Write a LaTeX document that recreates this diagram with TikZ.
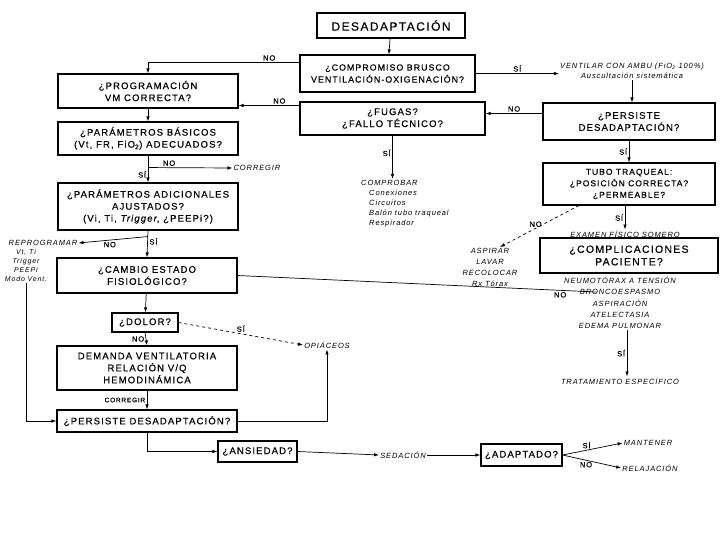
\documentclass[tikz,border=0pt]{standalone}
\usepackage{fontspec}
\setmainfont{Liberation Sans}
\newfontfamily\boxfont[LetterSpace=12,FakeBold=0.4]{Liberation Sans}
\newfontfamily\notefont[LetterSpace=12]{Liberation Sans}
\usetikzlibrary{positioning,arrows.meta,calc}

\tikzset{
  flowbox/.style={draw, line width=1.1pt, align=center, inner sep=0pt,
    font=\boxfont\fontsize{9.5}{12}\selectfont},
  note/.style={align=center, inner sep=1pt,
    font=\notefont\itshape\fontsize{7.5}{10}\selectfont},
  lbl/.style={inner sep=1.5pt, font=\boxfont\fontsize{7.5}{9}\selectfont},
  link/.style={line width=0.7pt, -{Latex[length=5pt,width=3.5pt]}},
  bareline/.style={line width=0.7pt},
}

\begin{document}
\begin{tikzpicture}[x=1pt,y=-1pt]
      \useasboundingbox (0,0) rectangle (720,540);
      \fill[white] (0,0) rectangle (720,540);

      % boxes
      \node[flowbox, font=\boxfont\fontsize{12}{14}\selectfont, minimum width=148, minimum height=25] (desad) at (391,25.5) {DESADAPTACIÓN};
      \node[flowbox, font=\boxfont\fontsize{8.8}{12}\selectfont, minimum width=175, minimum height=37] (compr) at (387.5,73.5) {¿COMPROMISO BRUSCO\\VENTILACIÓN-OXIGENACIÓN?};
      \node[flowbox, minimum width=180, minimum height=34] (prog) at (148,91) {¿PROGRAMACIÓN\\VM CORRECTA?};
      \node[flowbox, minimum width=185, minimum height=33] (fugas) at (392.5,118.5) {¿FUGAS?\\¿FALLO TÉCNICO?};
      \node[flowbox, minimum width=172, minimum height=37] (persR) at (629,121.5) {¿PERSISTE\\DESADAPTACIÓN?};
      \node[flowbox, minimum width=180, minimum height=33] (basic) at (148,138.5) {¿PARÁMETROS BÁSICOS\\(Vt, FR, FiO\textsubscript{2}) ADECUADOS?};
      \node[flowbox, minimum width=180, minimum height=47] (adic) at (148,206.5) {¿PARÁMETROS ADICIONALES\\AJUSTADOS?\\(Vi, Ti, \textit{Trigger}, ¿PEEPi?)};
      \node[flowbox, font=\boxfont\fontsize{8.5}{11.5}\selectfont, minimum width=172, minimum height=42] (tubo) at (629,184) {TUBO TRAQUEAL:\\¿POSICIÓN CORRECTA?\\¿PERMEABLE?};
      \node[flowbox, font=\boxfont\fontsize{10.5}{12.5}\selectfont, minimum width=178, minimum height=35] (compl) at (629,255.5) {¿COMPLICACIONES\\PACIENTE?};
      \node[flowbox, minimum width=180, minimum height=35] (cambio) at (147,275.5) {¿CAMBIO ESTADO\\FISIOLÓGICO?};
      \node[flowbox, minimum width=66, minimum height=19] (dolor) at (145,322.5) {¿DOLOR?};
      \node[flowbox, minimum width=180, minimum height=44] (demanda) at (147,368) {DEMANDA VENTILATORIA\\RELACIÓN V/Q\\HEMODINÁMICA};
      \node[flowbox, minimum width=180, minimum height=22] (pers2) at (147,421) {¿PERSISTE DESADAPTACIÓN?};
      \node[flowbox, minimum width=79, minimum height=21] (ansiedad) at (257.5,451.5) {¿ANSIEDAD?};
      \node[flowbox, minimum width=81, minimum height=22] (adapt) at (521.5,455) {¿ADAPTADO?};

      % notes
      \node[note] (ventilar) at (632,71) {VENTILAR CON AMBU (FiO\textsubscript{2} 100\%)\\Auscultación sistemática};
      \node[note, align=left, anchor=north west] (comprobar) at (360,179) {COMPROBAR\\\hspace*{8pt}Conexiones\\\hspace*{8pt}Circuitos\\\hspace*{8pt}Balón tubo traqueal\\\hspace*{8pt}Respirador};
      \node[note] (corregir) at (257,168) {CORREGIR};
      \node[note] (reprog) at (43,243) {REPROGRAMAR};
      \node[note, font=\notefont\itshape\fontsize{7}{9}\selectfont, anchor=north] (reprogl) at (26,248) {Vt, Ti\\Trigger\\PEEPi\\Modo Vent.};
      \node[note] (opiaceos) at (327,345) {OPIÁCEOS};
      \node[note, font=\notefont\itshape\fontsize{7.5}{11}\selectfont, anchor=north] (aspirar) at (490,247) {ASPIRAR\\LAVAR\\RECOLOCAR\\Rx Tórax};
      \node[note] (examen) at (625,234) {EXAMEN FÍSICO SOMERO};
      \node[note, font=\notefont\itshape\fontsize{7.5}{11.2}\selectfont, anchor=north] (neumo) at (620,276) {NEUMOTÓRAX A TENSIÓN\\BRONCOESPASMO\\ASPIRACIÓN\\ATELECTASIA\\EDEMA PULMONAR};
      \node[note] (tratam) at (620,381) {TRATAMIENTO ESPECÍFICO};
      \node[note] (sedacion) at (403,455) {SEDACIÓN};
      \node[note] (mantener) at (648,443) {MANTENER};
      \node[note] (relaj) at (650,468) {RELAJACIÓN};
      \coordinate (noend) at (596,292);

      % connectors
      \draw[link] (desad) -- (compr);
      \draw[link] (compr.east) -- node[lbl, above] {SÍ} (ventilar.west |- compr.east);
      \draw[link] (ventilar.south) -- (ventilar.south |- persR.north);
      \draw[link] ([yshift=8pt]persR.west) -- node[lbl, above] {NO} ([yshift=8pt]persR.west -| fugas.east);
      \draw[link] ([yshift=11pt]compr.west) -| node[lbl, pos=0.1, above] {NO} (prog.north);
      \draw[link] ([yshift=13pt]fugas.west) -- node[lbl, pos=0.33, above] {NO} ([yshift=13pt]fugas.west -| prog.east);
      \draw[link] (fugas.south) -- node[lbl, left, pos=0.4] {SÍ} (fugas.south |- comprobar.north);
      \draw[link] (persR.south) -- node[lbl, left] {SÍ} (persR.south |- tubo.north);
      \draw[link] (prog) -- (basic);
      \draw[link] (basic.south) -- node[lbl, left, pos=0.7] {SÍ} (adic.north);
      \draw[link] ($(basic.south)+(0,12)$) -- node[lbl, above, pos=0.25] {NO} (corregir.west);
      \draw[link] (adic.south) -- node[lbl, right, pos=0.4] {SÍ} (cambio.north);
      \draw[link] ($(adic.south)+(0,6)$) -- node[lbl, below, pos=0.55] {NO} (reprog.east);
      \draw[link] (reprogl.south) |- (pers2.west);
      \draw[bareline] (cambio.east) -- node[lbl, pos=0.9, below] {NO} (noend);
      \draw[link] (cambio) -- (dolor);
      \draw[link, dashed] (dolor.east) -- node[lbl, above] {SÍ} (opiaceos.west);
      \draw[link] (dolor.south) -- node[lbl, left] {NO} (demanda.north);
      \draw[link] (demanda.south) -- node[lbl, left, font=\boxfont\fontsize{6.5}{8}\selectfont] {CORREGIR} (pers2.north);
      \draw[link] (pers2.east) -| (opiaceos.south);
      \draw[link] (pers2.south) |- (ansiedad.west);
      \draw[link] (ansiedad.east) -- (sedacion.west);
      \draw[link] (sedacion.east) -- (adapt.west);
      \draw[link] (adapt.east) -- node[lbl, above, pos=0.4] {SÍ} (mantener.west);
      \draw[link] (adapt.east) -- node[lbl, below, pos=0.4] {NO} (relaj.west);
      \draw[link, dashed] ([xshift=-50pt]tubo.south) -- node[lbl, left, pos=0.45] {NO} ([xshift=10pt]aspirar.north);
      \draw[link] (tubo.south -| examen.north) -- node[lbl, left] {SÍ} (examen.north);
      \draw[link] ([xshift=7pt]neumo.south) -- node[lbl, left] {SÍ} ([xshift=7pt]neumo.south |- tratam.north);
    \end{tikzpicture}
\end{document}
